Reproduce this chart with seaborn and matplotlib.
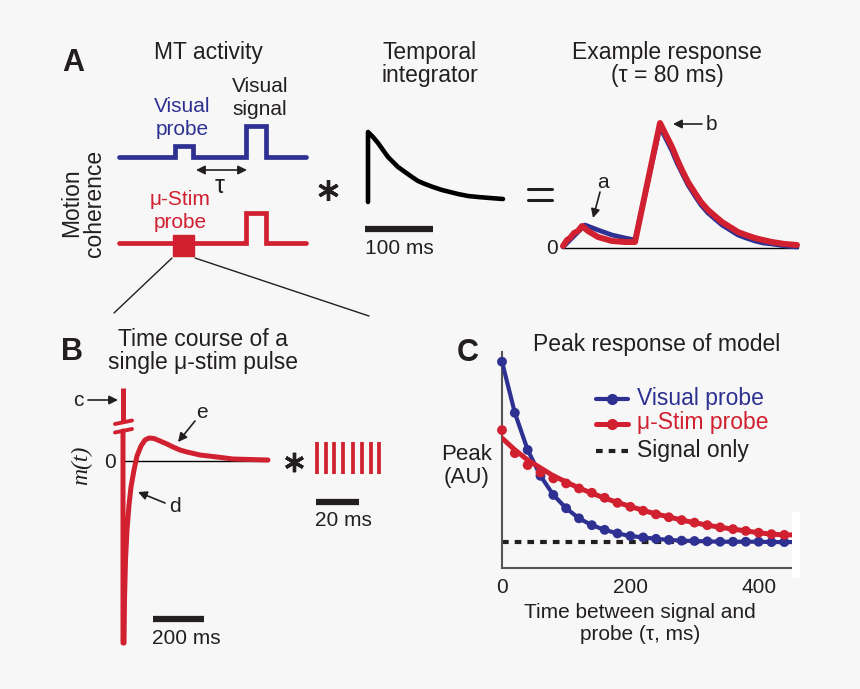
import matplotlib
matplotlib.use("Agg")
import matplotlib.pyplot as plt
import seaborn as sns
from matplotlib.patches import Rectangle

sns.set_theme(style="white")
plt.rcParams["font.family"] = ["Liberation Sans", "DejaVu Sans"]

BLUE = "#2e3192"
RED = "#d1202f"
INK = "#231f20"
BG = "#f7f7f7"

# ---------------- Panel C data ----------------
tau_ms = [0, 20, 40, 60, 80, 100, 120, 140, 160, 180, 200, 220,
          240, 260, 280, 300, 320, 340, 360, 380, 400, 420, 440]
visual_peak = [5.73, 4.31, 3.28, 2.56, 2.03, 1.66, 1.38, 1.19, 1.06, 0.96, 0.89, 0.85,
               0.81, 0.78, 0.76, 0.75, 0.74, 0.73, 0.73, 0.73, 0.73, 0.72, 0.72]
ustim_peak = [3.83, 3.19, 2.86, 2.65, 2.49, 2.35, 2.21, 2.09, 1.95, 1.81, 1.70, 1.59,
              1.49, 1.41, 1.33, 1.26, 1.19, 1.13, 1.08, 1.03, 0.98, 0.94, 0.92]
ustim_fit = [3.61, 3.28, 3.00, 2.78, 2.56, 2.39, 2.22, 2.08, 1.94, 1.82, 1.71, 1.60,
             1.50, 1.42, 1.33, 1.26, 1.19, 1.13, 1.08, 1.03, 0.98, 0.94, 0.92]
signal_only = 0.73
x_ticks = [0, 200, 400]
x_max = 452

# ---------------- Schematic shapes (pixel space of figure) ----------------
# MT activity traces
visual_trace_x = [119, 175, 175, 193, 193, 246, 246, 266, 266, 306]
visual_trace_y = [157, 157, 146, 146, 157, 157, 126, 126, 157, 157]
ustim_trace_x = [119, 246, 246, 266, 266, 306]
ustim_trace_y = [243, 243, 213, 213, 243, 243]
ustim_block = (173, 235, 21, 21)
# temporal integrator kernel
kernel_x = [368, 368, 373, 378, 383, 388, 393, 398, 405, 412, 418, 425, 433, 442,
            450, 458, 468, 478, 490, 503]
kernel_y = [202, 132, 137, 143, 150, 157, 162, 167, 172, 177, 181, 184, 187, 190,
            192, 194, 196, 197, 198, 199]
# example response
resp_blue_x = [563, 585, 598, 612, 625, 635, 660, 665, 672, 677, 682, 688, 695, 701,
               708, 715, 722, 730, 738, 746, 755, 763, 772, 785, 797]
resp_blue_y = [247, 225, 230, 235, 238, 240, 127, 137, 151, 163, 173, 185, 196, 205,
               213, 219, 225, 230, 235, 238, 241, 243, 244, 246, 247]
resp_red_x = [563, 567, 570, 574, 578, 582, 588, 598, 612, 625, 635, 660, 665, 672,
              677, 682, 688, 695, 701, 708, 715, 722, 730, 738, 746, 755, 763, 772,
              785, 797]
resp_red_y = [246, 240, 238, 233, 231, 226, 231, 237, 241, 242, 242, 123, 133, 147,
              159, 170, 182, 193, 202, 210, 216, 222, 227, 232, 235, 238, 240, 242,
              244, 245]
# single u-stim pulse m(t)
pulse_top_x = [123, 123]
pulse_top_y = [388, 422]
pulse_x = [123, 123, 124, 124.5, 125.5, 127, 129, 131, 134, 137, 141, 145, 149, 154,
           160, 167, 173, 180, 187, 200, 217, 233, 250, 268]
pulse_y = [431, 643, 643, 600, 560, 530, 505, 487, 470, 456, 446, 440, 438, 438.5,
           441, 444, 447, 450, 452, 455, 457, 459, 459.5, 460]
train_x = [317, 326, 334, 343, 353, 362, 371, 379]

fig = plt.figure(figsize=(8.6, 6.89), dpi=100, facecolor=BG)

# ---------------- Panel C axes ----------------
axC = fig.add_axes([502 / 860, 1 - 568 / 689, 290 / 860, 216 / 689])
axC.set_facecolor("none")
axC.axhline(signal_only, color=INK, lw=3.0, dashes=(1.6, 1.45), zorder=2)
sns.lineplot(x=tau_ms + [x_max], y=visual_peak + [visual_peak[-1]], ax=axC,
             color=BLUE, lw=3.0, zorder=3)
sns.lineplot(x=tau_ms + [x_max], y=ustim_fit + [ustim_fit[-1]], ax=axC,
             color=RED, lw=3.6, zorder=4)
sns.scatterplot(x=tau_ms, y=visual_peak, ax=axC, color=BLUE, s=50,
                edgecolor="none", zorder=3, clip_on=False)
sns.scatterplot(x=tau_ms, y=ustim_peak, ax=axC, color=RED, s=50,
                edgecolor="none", zorder=4, clip_on=False)
axC.set_xlim(0, x_max)
axC.set_ylim(0, 6)
axC.set_xticks(x_ticks)
axC.set_xticklabels([str(t) for t in x_ticks])
axC.set_yticks([])
axC.set_xlabel("")
axC.set_ylabel("")
for s in ["top", "right"]:
    axC.spines[s].set_visible(False)
for s in ["left", "bottom"]:
    axC.spines[s].set_color("#555555")
    axC.spines[s].set_linewidth(1.5)
axC.tick_params(axis="x", direction="in", length=6, width=1, color="#555555",
                labelsize=15, labelcolor=INK, pad=7)

# ---------------- Overlay for schematics ----------------
ax0 = fig.add_axes([0, 0, 1, 1], zorder=5)
ax0.set_facecolor("none")
ax0.set_xlim(0, 860)
ax0.set_ylim(689, 0)
ax0.axis("off")

def txt(x, y, s, size=15, color=INK, ls=1.08, **kw):
    kw.setdefault("ha", "center")
    kw.setdefault("va", "center")
    ax0.text(x, y, s, fontsize=size, color=color, linespacing=ls, **kw)

def arrow(x0, y0, x1, y1, style="-|>"):
    ax0.annotate("", xy=(x1, y1), xytext=(x0, y0),
                 arrowprops=dict(arrowstyle=style, color=INK, lw=1.2,
                                 mutation_scale=13, shrinkA=0, shrinkB=0))

# Panel A
txt(73, 63, "A", size=22, fontweight="bold")
txt(208, 53, "MT activity", size=16.5)
txt(182, 118, "Visual\nprobe", color=BLUE, ls=1.3)
txt(260, 98, "Visual\nsignal", ls=1.3)
txt(180, 211, "\u03bc-Stim\nprobe", color=RED, ls=1.3)
txt(83, 203, "Motion\ncoherence", size=16.5, rotation=90, ls=0.95)
ax0.plot(visual_trace_x, visual_trace_y, color=BLUE, lw=3.4, solid_joinstyle="miter")
ax0.plot(ustim_trace_x, ustim_trace_y, color=RED, lw=3.4, solid_joinstyle="miter")
ax0.add_patch(Rectangle(ustim_block[:2], ustim_block[2], ustim_block[3], color=RED))
arrow(196, 170, 247, 170, style="<|-|>")
txt(220, 186, "\u03c4", size=18)
ax0.plot([328], [190], marker=(6, 2, 0), ms=15, mew=2.4, color=INK)
ax0.plot([172, 114], [258, 313], color=INK, lw=1.0)
ax0.plot([195, 369], [258, 316], color=INK, lw=1.0)

txt(430, 64, "Temporal\nintegrator", size=16.5, ls=1.0)
ax0.plot(kernel_x, kernel_y, color="black", lw=3.3)
ax0.plot([365, 433], [229, 229], color=INK, lw=4.5, solid_capstyle="butt")
txt(399, 248, "100 ms")

ax0.plot([528, 552], [189, 189], color=INK, lw=2.2)
ax0.plot([528, 552], [200, 200], color=INK, lw=2.2)

txt(667, 64, "Example response\n(\u03c4 = 80 ms)", size=16.5, ls=1.0)
ax0.plot([563, 798], [248, 248], color="black", lw=1.0)
txt(552, 249, "0")
ax0.plot(resp_blue_x, resp_blue_y, color=BLUE, lw=3.4)
ax0.plot(resp_red_x, resp_red_y, color=RED, lw=4.3)
txt(603, 183, "a")
arrow(600, 192, 593, 218)
txt(711, 125, "b")
arrow(702, 124, 673, 124)

# Panel B
txt(72, 352, "B", size=22, fontweight="bold")
txt(203, 351, "Time course of a\nsingle \u03bc-stim pulse", size=16.5, ls=1.0)
ax0.plot([122, 268], [461, 461], color="black", lw=1.0)
txt(110, 462, "0")
ax0.plot(pulse_top_x, pulse_top_y, color=RED, lw=3.6, solid_capstyle="butt")
ax0.plot(pulse_x, pulse_y, color=RED, lw=3.6, solid_capstyle="round")
ax0.plot([115, 132], [424, 420.5], color=RED, lw=2.8)
ax0.plot([115, 132], [432.5, 429], color=RED, lw=2.8)
txt(78, 400, "c")
arrow(88, 400, 118, 400)
txt(202, 412, "e")
arrow(195, 421, 178, 442)
txt(175, 507, "d")
arrow(165, 503, 138, 492)
ax0.text(82, 465, "m(t)", fontsize=17, color=INK, rotation=90, ha="center",
         va="center", family=["Liberation Serif"], style="italic")
ax0.plot([153, 204], [619, 619], color=INK, lw=4.5, solid_capstyle="butt")
txt(186, 638, "200 ms")
ax0.plot([294], [462], marker=(6, 2, 0), ms=14, mew=2.4, color=INK)
for bx in train_x:
    ax0.plot([bx, bx], [442, 474], color=RED, lw=2.7, solid_capstyle="butt")
ax0.plot([316, 359], [502, 502], color=INK, lw=4.5, solid_capstyle="butt")
txt(343, 520, "20 ms")

# Panel C annotations
txt(468, 353, "C", size=22, fontweight="bold")
txt(657, 345, "Peak response of model", size=16.5)
txt(467, 466, "Peak\n(AU)", size=16, ls=1.1)
txt(640, 623, "Time between signal and\nprobe (\u03c4, ms)", size=15, ls=1.2)
ax0.plot([596, 628], [399, 399], color=BLUE, lw=3.0)
ax0.plot([612], [399], "o", color=BLUE, ms=7)
ax0.plot([596, 628], [424, 424], color=RED, lw=3.6)
ax0.plot([612], [424], "o", color=RED, ms=7)
ax0.plot([596, 628], [451, 451], color=INK, lw=3.0, dashes=(1.6, 1.45))
txt(637, 398, "Visual probe", size=16.5, color=BLUE, ha="left")
txt(637, 423, "\u03bc-Stim probe", size=16.5, color=RED, ha="left")
txt(637, 450, "Signal only", size=16.5, ha="left")
ax0.add_patch(Rectangle((792, 512), 8, 66, color="white", lw=0))

fig.savefig("out.png", dpi=100, facecolor=BG)
